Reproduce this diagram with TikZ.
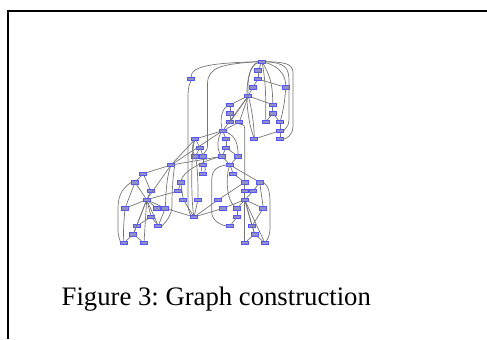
\documentclass[tikz,border=0pt]{standalone}
\usepackage{fontspec}
\setmainfont{Liberation Serif}
\definecolor{edgegray}{RGB}{118,118,118}
\definecolor{nfill}{RGB}{145,145,200}
\definecolor{ndraw}{RGB}{85,85,255}
\begin{document}
\frenchspacing
\begin{tikzpicture}[x=1bp,y=-1bp,
  nd/.style={rectangle,draw=ndraw,fill=nfill,line width=0.7bp,minimum width=7bp,minimum height=3.2bp,inner sep=0pt},
  ed/.style={draw=edgegray,line width=0.7bp},
  frameline/.style={draw=black,line width=1.3bp}]
\useasboundingbox (0,0) rectangle (487,339);
% frame
\draw[frameline] (8,339) -- (8,11) -- (487,11);
% caption
\node[anchor=base west,inner sep=0pt,font=\fontsize{26.8}{30}\selectfont] (cap) at (61.5,305) {Figure 3: Graph construction};
% nodes
\node[nd] (A0) at (262,61.7) {};
\node[nd] (B0) at (258,70.3) {};
\node[nd] (C0) at (191,79) {};
\node[nd] (C1) at (258,79) {};
\node[nd] (D0) at (252.7,87.3) {};
\node[nd] (D1) at (285.7,87.3) {};
\node[nd] (E0) at (248.3,96) {};
\node[nd] (F0) at (230,104.7) {};
\node[nd] (F1) at (272.7,104.7) {};
\node[nd] (G0) at (230,113.3) {};
\node[nd] (G1) at (272.7,113.3) {};
\node[nd] (H0) at (230,122) {};
\node[nd] (H1) at (239.3,122) {};
\node[nd] (H2) at (265.7,122) {};
\node[nd] (H3) at (280,122) {};
\node[nd] (I0) at (222.7,130.7) {};
\node[nd] (I1) at (280,130.7) {};
\node[nd] (J0) at (195.3,139) {};
\node[nd] (J1) at (226,139) {};
\node[nd] (J2) at (254.3,139) {};
\node[nd] (J3) at (280,139) {};
\node[nd] (K0) at (200,147.7) {};
\node[nd] (K1) at (226,147.7) {};
\node[nd] (L0) at (195.3,156.3) {};
\node[nd] (L1) at (203.3,156.3) {};
\node[nd] (L2) at (222,156.3) {};
\node[nd] (L3) at (238,156.3) {};
\node[nd] (M0) at (171,165) {};
\node[nd] (M1) at (203.3,165) {};
\node[nd] (M2) at (230,165) {};
\node[nd] (N0) at (143.3,173.7) {};
\node[nd] (N1) at (203.3,173.5) {};
\node[nd] (N2) at (233.3,173.7) {};
\node[nd] (O0) at (135,182.3) {};
\node[nd] (O1) at (180.7,182.3) {};
\node[nd] (O2) at (244.7,182.3) {};
\node[nd] (O3) at (259.7,182.3) {};
\node[nd] (P0) at (150.7,191) {};
\node[nd] (P1) at (178,191) {};
\node[nd] (P2) at (244.7,191) {};
\node[nd] (P3) at (253.3,191) {};
\node[nd] (Q0) at (146.7,199.7) {};
\node[nd] (Q1) at (183.3,199.7) {};
\node[nd] (Q2) at (198,199.7) {};
\node[nd] (Q3) at (218.3,199.7) {};
\node[nd] (Q4) at (244.7,199.7) {};
\node[nd] (R0) at (125,208.3) {};
\node[nd] (R1) at (156.7,208.3) {};
\node[nd] (R2) at (165.3,208.3) {};
\node[nd] (R3) at (223.3,208.3) {};
\node[nd] (R4) at (237.3,208.3) {};
\node[nd] (R5) at (263.3,208.3) {};
\node[nd] (S0) at (151.3,217) {};
\node[nd] (S1) at (194,217) {};
\node[nd] (S2) at (237.3,217) {};
\node[nd] (T0) at (136.7,225.7) {};
\node[nd] (T1) at (158.3,225.7) {};
\node[nd] (T2) at (230,225.7) {};
\node[nd] (T3) at (252,225.7) {};
\node[nd] (U0) at (133.3,234.3) {};
\node[nd] (U1) at (254.7,234.3) {};
\node[nd] (V0) at (124,242.7) {};
\node[nd] (V1) at (144,242.7) {};
\node[nd] (V2) at (244.7,242.7) {};
\node[nd] (V3) at (264.7,242.7) {};
% ---- edges: top cluster
\draw[ed] (A0) -- (B0);
\draw[ed] (A0.west) .. controls (212,63) and (191,66) .. (C0.north);
\draw[ed] (A0.west) .. controls (222,64) and (207.5,67) .. (207.5,84) -- (207.5,146) .. controls (207.5,151) and (204,152) .. (L1.north);
\draw[ed] (A0.east) .. controls (296,62) and (293,68) .. (293,80) -- (293,126) .. controls (293,135) and (286,139) .. (J3.east);
\draw[ed] (A0.east) .. controls (286,63) and (289,68) .. (289,82) -- (289,120) .. controls (289,127) and (284,129) .. (I1.east);
\draw[ed] (A0) to[out=-15,in=90] (D1);
\draw[ed] (A0) to[out=-60,in=90] (F1);
\draw[ed] (A0) to[out=-80,in=90] (H2);
\draw[ed] (A0) .. controls (250,64) and (247,80) .. (E0);
\draw[ed] (A0) .. controls (244,66) and (244,110) .. (J2);
\draw[ed] (B0) -- (C1);
\draw[ed] (C1) -- (D0);
\draw[ed] (C1) -- (D1);
\draw[ed] (D0) -- (E0);
\draw[ed] (E0) -- (F0);
\draw[ed] (E0) -- (F1);
\draw[ed] (E0) -- (H0);
\draw[ed] (E0) -- (H1);
\draw[ed] (E0) -- (I0);
\draw[ed] (E0) .. controls (252,110) and (254,125) .. (J2);
\draw[ed] (F0) -- (G0);
\draw[ed] (G0) -- (H0);
\draw[ed] (F0) .. controls (221,110) and (220,122) .. (I0);
\draw[ed] (F1) -- (G1);
\draw[ed] (G1) -- (H2);
\draw[ed] (G1) -- (H3);
\draw[ed] (D1) .. controls (285,100) and (283,112) .. (H3);
\draw[ed] (H3) -- (I1);
\draw[ed] (I1) -- (J3);
\draw[ed] (I1) -- (J2);
\draw[ed] (H1) -- (I0);
% ---- middle cluster
\draw[ed] (I0) -- (J0);
\draw[ed] (I0) -- (J1);
\draw[ed] (I0) -- (M0);
\draw[ed] (I0) .. controls (217,138) and (217,150) .. (L2);
\draw[ed] (I0) .. controls (236,136) and (238,145) .. (L3);
\draw[ed] (J1) -- (K1);
\draw[ed] (K1) -- (L2);
\draw[ed] (K1) -- (L3);
\draw[ed] (J0) -- (K0);
\draw[ed] (K0) -- (L0);
\draw[ed] (K0) -- (L1);
\draw[ed] (J0) .. controls (192,145) and (192,151) .. (L0);
\draw[ed] (L1) -- (M1);
\draw[ed] (M1) to[bend right=35] (N1);
\draw[ed] (M1) to[bend left=35] (N1);
\draw[ed] (L2) -- (M2);
\draw[ed] (L3) -- (M2);
\draw[ed] (M0) -- (J0);
\draw[ed] (M0) -- (L2);
% ---- lower left
\draw[ed] (M0) -- (N0);
\draw[ed] (N0) -- (O0);
\draw[ed] (N0) -- (P0);
\draw[ed] (M0) -- (Q0);
\draw[ed] (O0) -- (R0);
\draw[ed] (O0) -- (Q0);
\draw[ed] (O0.west) .. controls (120,190) and (118,198) .. (118,210) -- (118,230) .. controls (118,238) and (121,241) .. (V0.west);
\draw[ed] (P0) -- (Q0);
\draw[ed] (Q0) -- (P1);
\draw[ed] (Q0) -- (R0);
\draw[ed] (Q0) -- (R1);
\draw[ed] (Q0) -- (R2);
\draw[ed] (Q0) -- (S0);
\draw[ed] (Q0) -- (T0);
\draw[ed] (Q0) -- (T1);
\draw[ed] (Q0) -- (U0);
\draw[ed] (Q0) -- (V1);
\draw[ed] (R2) -- (T1);
\draw[ed] (S0) -- (T0);
\draw[ed] (S0) -- (T1);
\draw[ed] (T0) -- (U0);
\draw[ed] (U0) -- (V0);
\draw[ed] (U0) -- (V1);
\draw[ed] (R0) .. controls (124,220) and (123,232) .. (V0);
\draw[ed] (M0) .. controls (166,180) and (166,195) .. (R2);
\draw[ed] (M0.east) .. controls (173,175) and (172,190) .. (172,205) .. controls (172,215) and (166,222) .. (T1.east);
\draw[ed] (R2) -- (S1);
% ---- middle bottom
\draw[ed] (C0.south) .. controls (188,86) and (188,92) .. (188,100) -- (188,205) .. controls (188,212) and (191,215) .. (S1);
\draw[ed] (J0) .. controls (191,150) and (191,200) .. (S1);
\draw[ed] (L2) .. controls (200,162) and (183,172) .. (O1);
\draw[ed] (O1) -- (P1);
\draw[ed] (O1) -- (Q1);
\draw[ed] (Q1) -- (S1);
\draw[ed] (Q2) -- (S1);
\draw[ed] (L0) .. controls (198,170) and (198,185) .. (Q2);
\draw[ed] (S1) -- (Q3);
\draw[ed] (S1) -- (R3);
% ---- lower right
\draw[ed] (M2) -- (N2);
\draw[ed] (N2) -- (O2);
\draw[ed] (M2) -- (O3);
\draw[ed] (H1.south) .. controls (244.7,125) .. (244.7,132) -- (O2);
\draw[ed] (O2) -- (P2);
\draw[ed] (P2) -- (Q4);
\draw[ed] (O3) -- (P3);
\draw[ed] (P3) -- (Q4);
\draw[ed] (O3) -- (R5);
\draw[ed] (O3.east) .. controls (269,186) and (270,194) .. (270,204) -- (270,228) .. controls (270,236) and (267,240) .. (V3);
\draw[ed] (Q3) -- (O2);
\draw[ed] (R3) -- (Q4);
\draw[ed] (Q4) -- (R4);
\draw[ed] (Q4) -- (R5);
\draw[ed] (Q4) -- (T3);
\draw[ed] (Q4) -- (U1);
\draw[ed] (Q4) -- (V2);
\draw[ed] (Q4) -- (V3);
\draw[ed] (R4) -- (S2);
\draw[ed] (S2) -- (T2);
\draw[ed] (T3) -- (U1);
\draw[ed] (U1) -- (V2);
\draw[ed] (U1) -- (V3);
\draw[ed] (R5) -- (T3);
\draw[ed] (M2.west) .. controls (214,167) and (211.7,172) .. (211.7,182) -- (211.7,212) .. controls (211.7,221) and (222,225.7) .. (T2.west);
\draw[ed] (M2) .. controls (226,175) and (226,200) .. (R4);
\end{tikzpicture}
\end{document}
